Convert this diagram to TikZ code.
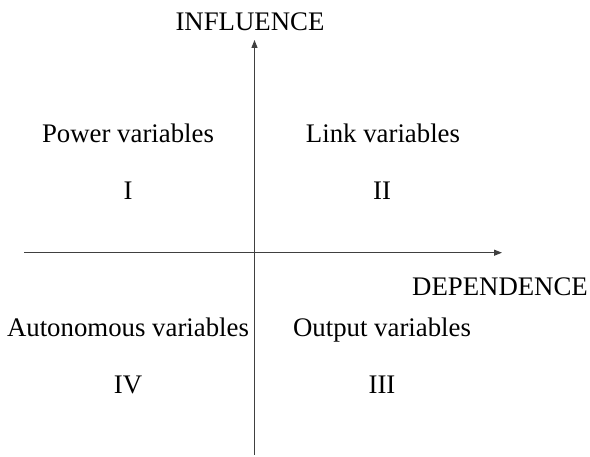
\documentclass[tikz,border=0pt]{standalone}
\usepackage{fontspec}
\setmainfont{Liberation Serif}
\usetikzlibrary{arrows.meta}
\tikzset{
  axis/.style={line width=1.3pt, draw=black!75, -{Triangle[length=8pt,width=6pt]}},
  lbl/.style={inner sep=0pt, text height=0.68em, text depth=0.22em, font=\fontsize{26.8}{30}\selectfont}
}
\begin{document}
\begin{tikzpicture}[x=1pt,y=-1pt]
\useasboundingbox (0,0) rectangle (590,457);
\coordinate (vb) at (254.5,455);
\coordinate (vt) at (254.5,40);
\coordinate (hl) at (24,252.7);
\coordinate (hr) at (502,252.7);
\draw[axis] (vb) -- (vt);
\draw[axis] (hl) -- (hr);
\node[lbl] (inf) at (250,28) {INFLUENCE};
\node[lbl] (dep) at (500,293) {DEPENDENCE};
\node[lbl] (pw) at (128,140) {Power variables};
\node[lbl] (lk) at (383,140) {Link variables};
\node[lbl] (q1) at (128,197) {I};
\node[lbl] (q2) at (382,197) {II};
\node[lbl] (au) at (128,334) {Autonomous variables};
\node[lbl] (ou) at (382,334) {Output variables};
\node[lbl] (q4) at (128,391) {IV};
\node[lbl] (q3) at (382,391) {III};
\end{tikzpicture}
\end{document}
